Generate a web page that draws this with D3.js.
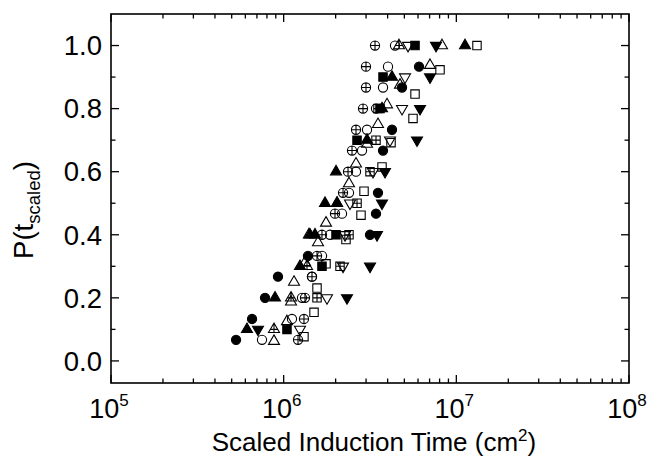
<!DOCTYPE html>
<html><head><meta charset="utf-8">
<script src="https://cdn.jsdelivr.net/npm/d3@7"></script>
<style>body{margin:0;background:#fff}</style>
</head><body>
<svg id="c" width="655" height="475"></svg>
<script>
// x values in units of 10^6 cm^2, y values are cumulative probabilities
const xTickExps = [5, 6, 7, 8];
const yTickLabels = ["0.0", "0.2", "0.4", "0.6", "0.8", "1.0"];

const filledCircleX = [0.530, 0.656, 0.780, 0.927, 1.383, 3.162, 3.426, 3.518, 3.762, 4.241, 4.846, 6.080];
const filledCircleY = [0.067, 0.133, 0.200, 0.267, 0.333, 0.400, 0.467, 0.533, 0.667, 0.733, 0.867, 0.933];

const openCircleX = [0.749, 1.117, 1.277, 1.459, 1.667, 1.855, 2.177, 2.390, 2.624, 2.843, 3.039, 3.426, 3.762, 4.020, 4.414];
const openCircleY = [0.067, 0.133, 0.200, 0.267, 0.333, 0.400, 0.467, 0.533, 0.600, 0.667, 0.733, 0.800, 0.867, 0.933, 1.000];

const circlePlusX = [1.211, 1.311, 1.329, 1.459, 1.560, 1.667, 1.983, 2.207, 2.359, 2.488, 2.624, 2.881, 2.998, 2.998, 3.381];
const circlePlusY = [0.067, 0.133, 0.200, 0.267, 0.333, 0.400, 0.467, 0.533, 0.600, 0.667, 0.733, 0.800, 0.867, 0.933, 1.000];

const filledTriUpX = [0.613, 0.891, 1.243, 1.420, 1.735, 2.010, 3.039, 3.712, 4.241, 11.23];
const filledTriUpY = [0.1, 0.2, 0.3, 0.4, 0.5, 0.6, 0.7, 0.8, 0.9, 1.0];

const filledTriUpBX = [1.519, 2.037];
const filledTriUpBY = [0.4, 0.5];

const openTriUpX = [0.879, 1.045, 1.103, 1.148, 1.329, 1.581, 1.759, 2.037, 2.390, 2.624, 3.039, 3.518, 3.967, 4.718, 7.039, 8.260];
const openTriUpY = [0.0625, 0.125, 0.1875, 0.25, 0.3125, 0.375, 0.4375, 0.5, 0.5625, 0.625, 0.6875, 0.75, 0.8125, 0.875, 0.9375, 1.0];

const triCrossX = [0.879, 1.103, 1.365, 1.400, 4.655];
const triCrossY = [0.1, 0.2, 0.3, 0.4, 1.0];

const filledTriDownX = [0.710, 2.327, 3.162, 3.472, 3.712, 3.863, 5.920, 6.161, 7.039, 7.626];
const filledTriDownY = [0.1, 0.2, 0.3, 0.4, 0.5, 0.6, 0.7, 0.8, 0.9, 1.0];

const openTriDownX = [1.243, 1.782, 2.207, 2.266, 2.423, 3.291, 4.129, 4.846, 5.044, 5.250];
const openTriDownY = [0.1, 0.2, 0.3, 0.4, 0.5, 0.6, 0.7, 0.8, 0.9, 1.0];

const openSquareX = [1.311, 1.499, 1.560, 1.759, 2.296, 2.805, 2.920, 3.712, 4.185, 5.612, 5.764, 8.045, 13.17];
const openSquareY = [0.077, 0.154, 0.231, 0.308, 0.385, 0.462, 0.538, 0.615, 0.692, 0.769, 0.846, 0.923, 1.0];

const filledSquareX = [1.045, 1.667, 2.010, 2.660, 3.614, 3.762, 5.764];
const filledSquareY = [0.1, 0.3, 0.4, 0.7, 0.8, 0.9, 1.0];

const squarePlusX = [1.560, 2.120, 2.390, 2.660, 3.162, 3.426, 3.518];
const squarePlusY = [0.2, 0.3, 0.4, 0.5, 0.6, 0.7, 0.8];

const series = [
  {x: filledCircleX, y: filledCircleY, shape: "circle", filled: true},
  {x: filledSquareX, y: filledSquareY, shape: "square", filled: true},
  {x: filledTriUpX, y: filledTriUpY, shape: "triUp", filled: true},
  {x: filledTriUpBX, y: filledTriUpBY, shape: "triUp", filled: true},
  {x: filledTriDownX, y: filledTriDownY, shape: "triDown", filled: true},
  {x: openCircleX, y: openCircleY, shape: "circle", filled: false},
  {x: circlePlusX, y: circlePlusY, shape: "circlePlus", filled: false},
  {x: openTriUpX, y: openTriUpY, shape: "triUp", filled: false},
  {x: triCrossX, y: triCrossY, shape: "triCross", filled: false},
  {x: openTriDownX, y: openTriDownY, shape: "triDown", filled: false},
  {x: openSquareX, y: openSquareY, shape: "square", filled: false},
  {x: squarePlusX, y: squarePlusY, shape: "squarePlus", filled: false}
];

const L = 111, R = 629, T = 14, B = 383;
const svg = d3.select("#c");
const x = d3.scaleLog().domain([1e5, 1e8]).range([L, R]);
const y = d3.scaleLinear().domain([-0.07, 1.1]).range([B, T]);
const font = "'Liberation Sans', Arial, Helvetica, sans-serif";

// marker paths
const rC = 4.6, hs = 4.2, tw = 11, th = 9.5;
function path(shape) {
  switch (shape) {
    case "circle": return `M${rC},0A${rC},${rC} 0 1,1 ${-rC},0A${rC},${rC} 0 1,1 ${rC},0Z`;
    case "circlePlus": return `M${rC},0A${rC},${rC} 0 1,1 ${-rC},0A${rC},${rC} 0 1,1 ${rC},0Z M${-rC},0H${rC} M0,${-rC}V${rC}`;
    case "square": return `M${-hs},${-hs}H${hs}V${hs}H${-hs}Z`;
    case "squarePlus": return `M${-hs},${-hs}H${hs}V${hs}H${-hs}Z M${-hs},0H${hs} M0,${-hs}V${hs}`;
    case "triUp": return `M0,${-th*2/3}L${tw/2},${th/3}L${-tw/2},${th/3}Z`;
    case "triDown": return `M0,${th*2/3}L${tw/2},${-th/3}L${-tw/2},${-th/3}Z`;
    case "triCross": return `M0,${-th*2/3}L${tw/2},${th/3}L${-tw/2},${th/3}Z M0,${-th*2/3}V${th/3} M${-tw/3},0H${tw/3}`;
  }
}

const gPts = svg.append("g");
series.forEach(s => {
  gPts.selectAll(null).data(s.x.map((v, i) => [v * 1e6, s.y[i]])).enter()
    .append("path")
    .attr("transform", d => `translate(${x(d[0])},${y(d[1])})`)
    .attr("d", path(s.shape))
    .attr("fill", s.filled ? "#000" : "none")
    .attr("stroke", "#000")
    .attr("stroke-width", 1.1);
});

// frame
svg.append("rect").attr("x", L).attr("y", T).attr("width", R - L).attr("height", B - T)
  .attr("fill", "none").attr("stroke", "#000").attr("stroke-width", 1.6);

// ticks
const gT = svg.append("g").attr("stroke", "#000").attr("stroke-width", 1.3);
const majorY = d3.range(0, 1.01, 0.2);
const minorY = d3.range(0.1, 1.0, 0.2);
majorY.forEach(v => {
  gT.append("line").attr("x1", L).attr("x2", L + 8).attr("y1", y(v)).attr("y2", y(v));
  gT.append("line").attr("x1", R).attr("x2", R - 8).attr("y1", y(v)).attr("y2", y(v));
});
minorY.forEach(v => {
  gT.append("line").attr("x1", L).attr("x2", L + 4.5).attr("y1", y(v)).attr("y2", y(v));
  gT.append("line").attr("x1", R).attr("x2", R - 4.5).attr("y1", y(v)).attr("y2", y(v));
});
xTickExps.forEach(e => {
  const v = Math.pow(10, e);
  gT.append("line").attr("x1", x(v)).attr("x2", x(v)).attr("y1", B).attr("y2", B - 8);
  gT.append("line").attr("x1", x(v)).attr("x2", x(v)).attr("y1", T).attr("y2", T + 8);
  if (e < 8) for (let m = 2; m <= 9; m++) {
    const w = m * v;
    gT.append("line").attr("x1", x(w)).attr("x2", x(w)).attr("y1", B).attr("y2", B - 4.5);
    gT.append("line").attr("x1", x(w)).attr("x2", x(w)).attr("y1", T).attr("y2", T + 4.5);
  }
});

// tick labels
yTickLabels.forEach((t, i) => {
  svg.append("text").attr("x", 102).attr("y", y(majorY[i]) + 9.8)
    .attr("text-anchor", "end").attr("font-family", font).attr("font-size", 27.5).text(t);
});
xTickExps.forEach(e => {
  const t = svg.append("text").attr("x", x(Math.pow(10, e)) - 2).attr("y", 418)
    .attr("text-anchor", "middle").attr("font-family", font).attr("font-size", 27);
  t.append("tspan").text("10");
  t.append("tspan").attr("font-size", 17).attr("dy", -12).text(String(e));
});

// axis titles
const xt = svg.append("text").attr("x", (L + R) / 2 + 4).attr("y", 451)
  .attr("text-anchor", "middle").attr("font-family", font).attr("font-size", 26);
xt.append("tspan").text("Scaled Induction Time (cm");
xt.append("tspan").attr("font-size", 17).attr("dy", -10).text("2");
xt.append("tspan").attr("dy", 10).text(")");

const yt = svg.append("text").attr("transform", "translate(33,210) rotate(-90)")
  .attr("text-anchor", "middle").attr("font-family", font).attr("font-size", 27.5);
yt.append("tspan").text("P(t");
yt.append("tspan").attr("font-size", 18.5).attr("dy", 7).text("scaled");
yt.append("tspan").attr("dy", -7).text(")");
</script>
</body></html>
